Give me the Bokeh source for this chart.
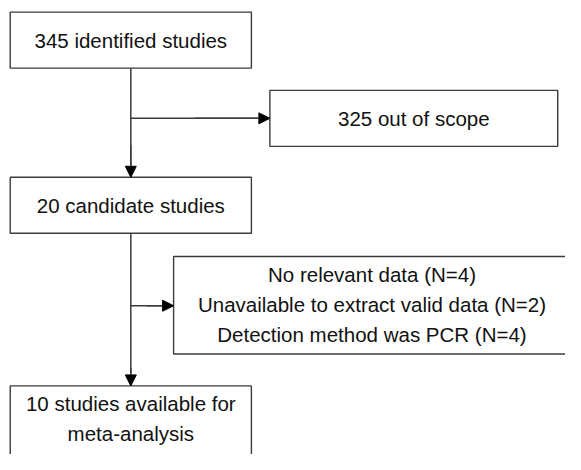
from bokeh.plotting import figure
from bokeh.models import Range1d, Arrow, NormalHead, ColumnDataSource
from bokeh.core.properties import value
from bokeh.embed import file_html
from bokeh.resources import INLINE

# Flowchart content
labels = [
    "345 identified studies",
    "325 out of scope",
    "20 candidate studies",
    "No relevant data (N=4)\nUnavailable to extract valid data (N=2)\nDetection method was PCR (N=4)",
    "10 studies available for\nmeta-analysis",
]

# Box geometry (reference pixel space)
box_left = [10, 277, 10, 178, 10]
box_right = [258, 573, 258, 586, 258]
box_top = [12, 93, 183, 265, 399]
box_bottom = [70, 151, 241, 366, 480]
text_y = [41, 122, 212, 315, 433]

FONT = value("Liberation Sans")

p = figure(width=565, height=454, output_backend="svg", toolbar_location=None,
           x_axis_type=None, y_axis_type=None, min_border=0,
           x_range=Range1d(0, 581), y_range=Range1d(470, 0))
p.outline_line_color = None
p.grid.visible = False
p.background_fill_color = "white"
p.border_fill_color = "white"

LINE = "#3c3c3c"

# connector lines
main_x = 134
p.segment(x0=[main_x, main_x, main_x, main_x],
          y0=[box_bottom[0], 122, box_bottom[2], 316],
          x1=[main_x, box_left[1] - 10, main_x, box_left[3] - 10],
          y1=[box_top[2] - 10, 122, box_top[4] - 10, 316],
          line_color=LINE, line_width=1.5)

# arrows
arrows = [
    (main_x, 150, main_x, box_top[2]),
    (200, 122, box_left[1], 122),
    (main_x, 380, main_x, box_top[4]),
    (150, 316, box_left[3], 316),
]
for (x0, y0, x1, y1) in arrows:
    p.add_layout(Arrow(end=NormalHead(size=11, fill_color="black", line_color="black", line_width=1),
                       x_start=x0, y_start=y0, x_end=x1, y_end=y1,
                       line_color=LINE, line_width=1.5))

# boxes
src = ColumnDataSource(dict(left=box_left, right=box_right, top=box_top, bottom=box_bottom))
p.quad(left="left", right="right", top="top", bottom="bottom", source=src,
       fill_color="white", line_color=LINE, line_width=1.4)

# texts
cx = [(l + r) / 2 for l, r in zip(box_left, box_right)]
tsrc = ColumnDataSource(dict(x=cx, y=text_y, text=labels))
p.text(x="x", y="y", text="text", source=tsrc, text_align="center",
       text_baseline="middle", text_font=FONT, text_font_size="20.5px",
       text_color="#111111", text_line_height=1.3)

open("out.html", "w").write(file_html(p, INLINE))
